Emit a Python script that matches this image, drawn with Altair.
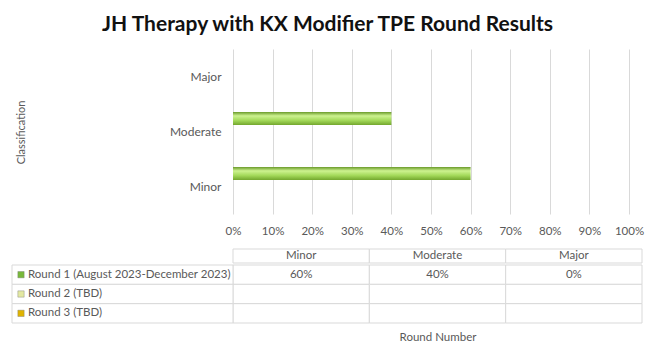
import altair as alt
import pandas as pd

# ---- data ----
categories = ["Minor", "Moderate", "Major"]
bar_order = ["Major", "Moderate", "Minor"]
rounds = ["Round 1 (August 2023-December 2023)", "Round 2 (TBD)", "Round 3 (TBD)"]
round1 = [0.60, 0.40, 0.00]
round2 = [None, None, None]
round3 = [None, None, None]
x_ticks = [0, 0.1, 0.2, 0.3, 0.4, 0.5, 0.6, 0.7, 0.8, 0.9, 1.0]
swatch_colors = ["#78b83a", "#e3e8a2", "#e0b400"]

rows = []
for r, vals in zip(rounds, [round1, round2, round3]):
    for c, v in zip(categories, vals):
        rows.append({"Round": r, "Classification": c, "Value": v})
df = pd.DataFrame(rows)
labels_df = pd.DataFrame({"Round": rounds})
hdr_df = pd.DataFrame({"Classification": categories})

GRAY = "#595959"
GRID = "#d9d9d9"
FS = 11.5

bar_fill = alt.Gradient(
    gradient="linear", x1=0, x2=0, y1=0, y2=1,
    stops=[
        alt.GradientStop(color="#6a9a2a", offset=0),
        alt.GradientStop(color="#cdf290", offset=0.3),
        alt.GradientStop(color="#a3d95a", offset=0.65),
        alt.GradientStop(color="#73a72e", offset=1),
    ],
)

# ---- bar chart ----
bars = alt.Chart(df).mark_bar(color=bar_fill).encode(
    x=alt.X("Value:Q",
            scale=alt.Scale(domain=[0, 1], nice=False),
            axis=alt.Axis(format=".0%", values=x_ticks, grid=True, gridColor=GRID,
                          ticks=False, domain=False, labelPadding=11, title=None,
                          labelFlush=False, labelOverlap=False,
                          labelColor=GRAY, labelFontSize=FS)),
    y=alt.Y("Classification:N", sort=bar_order,
            scale=alt.Scale(domain=bar_order, paddingInner=0, paddingOuter=0),
            axis=alt.Axis(title="Classification", ticks=False, domain=False,
                          labelPadding=12, labelColor=GRAY, labelFontSize=12,
                          titleColor=GRAY, titleFontSize=11, titleFontWeight="normal",
                          titleX=-207, titleY=83)),
    yOffset=alt.YOffset("Round:N",
                        scale=alt.Scale(domain=rounds, paddingInner=0, paddingOuter=0.615)),
).properties(width=396, height=165)

# ---- table header ----
hdr_base = alt.Chart(hdr_df).encode(
    x=alt.X("Classification:N", sort=categories,
            scale=alt.Scale(domain=categories, paddingInner=0, paddingOuter=0), axis=None)
)
hdr_rect = hdr_base.mark_rect(fill="white", stroke=GRID, strokeWidth=1)
hdr_text = hdr_base.mark_text(color=GRAY, fontSize=FS, baseline="middle").encode(
    text="Classification:N", y=alt.value(7))
header_chart = alt.layer(hdr_rect, hdr_text).properties(width=409, height=14)

# ---- table body ----
yscale = alt.Scale(domain=rounds, paddingInner=0, paddingOuter=0)
body_base = alt.Chart(df).encode(
    x=alt.X("Classification:N", sort=categories,
            scale=alt.Scale(domain=categories, paddingInner=0, paddingOuter=0),
            axis=alt.Axis(title="Round Number", labels=False, ticks=False, domain=False,
                          titleColor=GRAY, titleFontSize=FS, titleFontWeight="normal",
                          titlePadding=8)),
    y=alt.Y("Round:N", sort=rounds, scale=yscale, axis=None),
)
cells = body_base.mark_rect(fill="white", stroke=GRID, strokeWidth=1)
vals = body_base.transform_filter("isValid(datum.Value)").mark_text(
    color=GRAY, fontSize=FS).encode(text=alt.Text("Value:Q", format=".0%"))

lab_base = alt.Chart(labels_df).encode(y=alt.Y("Round:N", sort=rounds, scale=yscale, axis=None))
lab_rect = lab_base.mark_rect(fill="white", stroke=GRID, strokeWidth=1).encode(
    x=alt.value(-221), x2=alt.value(0))
lab_text = lab_base.mark_text(align="left", color=GRAY, fontSize=FS).encode(
    x=alt.value(-205), text="Round:N")
lab_sw = lab_base.mark_square(size=40, opacity=1, filled=True, stroke="#777777",
                              strokeWidth=0.4).encode(
    x=alt.value(-212),
    color=alt.Color("Round:N", scale=alt.Scale(domain=rounds, range=swatch_colors), legend=None))

body_chart = alt.layer(cells, vals, lab_rect, lab_text, lab_sw).properties(width=409, height=58)

table = alt.vconcat(header_chart, body_chart, spacing=0)

chart = alt.vconcat(
    bars, table, spacing=11,
    title=alt.TitleParams("JH Therapy with KX Modifier TPE Round Results",
                          fontSize=21, fontWeight="bold", color="#111111",
                          anchor="middle", offset=14),
).properties(
    padding={"left": 3, "top": 5, "right": 5, "bottom": 5}
).configure(font="Lato").configure_view(stroke="transparent")

chart.save("out.html", embed_options={"renderer": "svg", "actions": False})
